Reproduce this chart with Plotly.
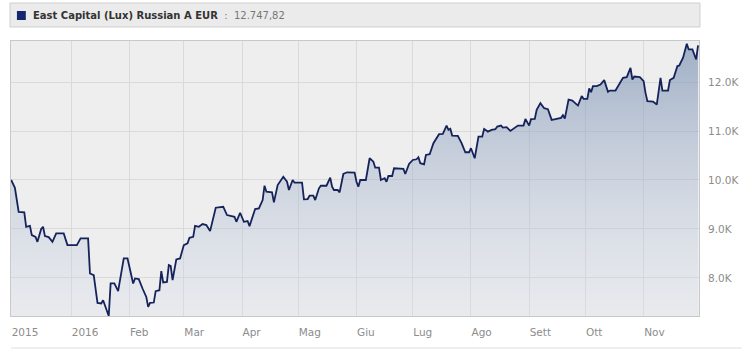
import plotly.graph_objects as go

# ---- data ----
series_name = "East Capital (Lux) Russian A EUR"
last_value_label = "12.747,82"

dates = [
    "2015-11-30", "2015-12-01", "2015-12-02", "2015-12-04", "2015-12-07", "2015-12-08",
    "2015-12-10", "2015-12-11", "2015-12-13", "2015-12-14", "2015-12-16", "2015-12-17",
    "2015-12-18", "2015-12-20", "2015-12-22", "2015-12-24", "2015-12-28", "2015-12-30",
    "2016-01-04", "2016-01-06", "2016-01-10", "2016-01-11", "2016-01-13", "2016-01-15",
    "2016-01-17", "2016-01-18", "2016-01-19", "2016-01-21", "2016-01-22", "2016-01-24",
    "2016-01-26", "2016-01-29", "2016-01-31",
    "2016-02-03", "2016-02-04", "2016-02-06", "2016-02-08", "2016-02-10", "2016-02-11",
    "2016-02-12", "2016-02-14", "2016-02-15", "2016-02-17", "2016-02-18", "2016-02-19",
    "2016-02-21", "2016-02-22", "2016-02-23", "2016-02-24", "2016-02-26", "2016-02-28",
    "2016-03-01", "2016-03-03", "2016-03-04", "2016-03-06", "2016-03-07", "2016-03-09",
    "2016-03-11", "2016-03-13", "2016-03-15", "2016-03-18", "2016-03-22", "2016-03-24",
    "2016-03-28", "2016-03-29", "2016-03-31",
    "2016-04-02", "2016-04-04", "2016-04-05", "2016-04-08", "2016-04-10", "2016-04-12",
    "2016-04-13", "2016-04-14", "2016-04-17", "2016-04-18", "2016-04-20", "2016-04-22",
    "2016-04-23", "2016-04-25", "2016-04-26", "2016-04-28", "2016-04-29",
    "2016-05-03", "2016-05-04", "2016-05-06", "2016-05-07", "2016-05-09", "2016-05-10",
    "2016-05-12", "2016-05-13", "2016-05-16", "2016-05-18", "2016-05-19", "2016-05-20",
    "2016-05-22", "2016-05-23", "2016-05-25", "2016-05-27", "2016-05-31",
    "2016-06-01", "2016-06-02", "2016-06-03", "2016-06-06", "2016-06-08", "2016-06-10",
    "2016-06-11", "2016-06-13", "2016-06-14", "2016-06-16", "2016-06-17", "2016-06-18",
    "2016-06-20", "2016-06-21", "2016-06-25", "2016-06-26", "2016-06-27", "2016-06-29",
    "2016-07-01", "2016-07-03", "2016-07-04", "2016-07-05", "2016-07-07", "2016-07-08",
    "2016-07-10", "2016-07-12", "2016-07-15", "2016-07-17", "2016-07-19", "2016-07-20",
    "2016-07-21", "2016-07-22", "2016-07-25", "2016-07-27", "2016-07-29", "2016-07-31",
    "2016-08-01", "2016-08-03", "2016-08-05", "2016-08-07", "2016-08-08", "2016-08-10",
    "2016-08-12", "2016-08-14", "2016-08-15", "2016-08-17", "2016-08-18", "2016-08-20",
    "2016-08-22", "2016-08-25", "2016-08-26", "2016-08-29", "2016-08-30",
    "2016-09-01", "2016-09-02", "2016-09-04", "2016-09-05", "2016-09-07", "2016-09-09",
    "2016-09-11", "2016-09-13", "2016-09-15", "2016-09-18", "2016-09-19", "2016-09-20",
    "2016-09-22", "2016-09-24", "2016-09-27", "2016-09-29", "2016-09-30",
    "2016-10-02", "2016-10-03", "2016-10-04", "2016-10-05", "2016-10-07", "2016-10-09",
    "2016-10-11", "2016-10-13", "2016-10-14", "2016-10-17", "2016-10-20", "2016-10-21",
    "2016-10-23", "2016-10-25", "2016-10-26", "2016-10-27", "2016-10-30",
    "2016-11-01", "2016-11-02", "2016-11-03", "2016-11-06", "2016-11-08", "2016-11-10",
    "2016-11-11", "2016-11-14", "2016-11-15", "2016-11-17", "2016-11-19", "2016-11-20",
    "2016-11-22", "2016-11-24", "2016-11-25", "2016-11-27", "2016-11-29", "2016-11-30",
]

values = [
    10000, 9900, 9840, 9350, 9340, 9045,
    9065, 8875, 8840, 8738, 9000, 9045,
    8855, 8834, 8738, 8910, 8910, 8671,
    8671, 8808, 8808, 8092, 8057, 7491,
    7479, 7546, 7429, 7225, 7888, 7888,
    7730, 8399, 8399,
    7888, 7990, 7976, 7785, 7613, 7409,
    7491, 7499, 7730, 7750, 8139, 7908,
    7920, 8262, 8247, 7955, 8378, 8399,
    8671, 8706, 8820, 8840, 9065, 9045,
    9100, 9080, 8957, 9434, 9454, 9284,
    9249, 9147, 9331,
    9147, 9162, 9059, 9407, 9421, 9591,
    9883, 9761, 9748, 9544, 9898, 10000,
    10067, 9965, 9796, 10000, 9945,
    9945, 9605, 9611, 9679, 9679, 9591,
    9830, 9883, 9883, 10047, 9863, 9796,
    9796, 9748, 10123, 10157, 10149,
    9965, 9863, 10000, 10000, 10444, 10374,
    10252, 10252, 10000, 10035, 9965, 10082,
    10082, 10239, 10239, 10225, 10123, 10327,
    10409, 10423, 10464, 10342, 10321, 10511,
    10526, 10751, 10935, 10941, 11110, 11023,
    11043, 10906, 10900, 10751, 10566, 10566,
    10648, 10444, 10885, 10885, 11043, 10988,
    11023, 11037, 11090, 11110, 11070, 11078,
    11002, 11078, 11110, 11110, 11247,
    11110, 11241, 11247, 11432, 11569, 11466,
    11446, 11227, 11241, 11268, 11323, 11254,
    11642, 11622, 11519, 11712, 11656,
    11656, 11867, 11793, 11916, 11916, 11949,
    12039, 11800, 11826, 11826, 12018, 12086,
    12100, 12290, 12051, 12112, 12100,
    12018, 11779, 11609, 11601, 11540, 12086,
    11826, 11826, 12039, 12086, 12325, 12337,
    12495, 12781, 12665, 12665, 12460, 12748,
]

x_tick_vals = ["2015-11-30", "2016-01-01", "2016-02-01", "2016-03-01", "2016-04-01",
               "2016-05-01", "2016-06-01", "2016-07-01", "2016-08-01", "2016-09-01",
               "2016-10-01", "2016-11-01"]
x_tick_text = ["2015", "2016", "Feb", "Mar", "Apr", "Mag", "Giu", "Lug", "Ago",
               "Sett", "Ott", "Nov"]
y_tick_vals = [8000, 9000, 10000, 11000, 12000]
y_tick_text = ["8.0K", "9.0K", "10.0K", "11.0K", "12.0K"]

x_range = ["2015-11-29 22:00", "2016-11-30 12:00"]
y_range = [7224, 12837]

# ---- figure ----
W, H = 749, 352
ML, MR, MT, MB = 10, 43, 41, 36
PW, PH = W - ML - MR, H - MT - MB


def px_x(p):
    return (p - ML) / PW


def px_y(p):
    return (H - MB - p) / PH


LINE = "#15235a"
AXIS_FONT = dict(family="DejaVu Sans, Verdana, sans-serif", size=10.5, color="#8c8c8c")

fig = go.Figure()
fig.add_trace(go.Scatter(
    x=dates, y=values, mode="lines",
    line=dict(color=LINE, width=1.8),
    fill="tozeroy",
    fillgradient=dict(
        type="vertical",
        colorscale=[[0, "rgba(215,222,236,0.25)"], [1, "rgba(110,135,172,0.62)"]],
        start=y_range[0], stop=y_range[1],
    ),
    hoverinfo="skip", showlegend=False,
))

fig.update_layout(
    width=W, height=H,
    margin=dict(l=ML, r=MR, t=MT, b=MB, pad=0),
    paper_bgcolor="white",
    plot_bgcolor="#eeeeee",
    showlegend=False,
    xaxis=dict(
        type="date", range=x_range,
        tickmode="array", tickvals=x_tick_vals, ticktext=x_tick_text,
        ticklabelposition="outside right",
        ticks="", showgrid=True, gridcolor="#dadada", gridwidth=1,
        showline=True, mirror=True, linecolor="#c8c8c8", linewidth=1,
        tickfont=AXIS_FONT, zeroline=False, fixedrange=True,
        ticklabelstandoff=6,
    ),
    yaxis=dict(
        range=y_range, side="right",
        tickmode="array", tickvals=y_tick_vals, ticktext=y_tick_text,
        ticks="", showgrid=True, gridcolor="#dadada", gridwidth=1,
        showline=True, mirror=True, linecolor="#c8c8c8", linewidth=1,
        tickfont=AXIS_FONT, zeroline=False, fixedrange=True,
        ticklabelstandoff=6,
    ),
)

# legend header box
fig.add_shape(type="rect", xref="paper", yref="paper",
              x0=px_x(9), x1=px_x(707), y0=px_y(27), y1=px_y(3),
              fillcolor="#ebebeb", line=dict(color="#cfcfcf", width=1), layer="below")
fig.add_shape(type="rect", xref="paper", yref="paper",
              x0=px_x(16), x1=px_x(25), y0=px_y(20), y1=px_y(11),
              fillcolor="#16266e", line=dict(width=0))
fig.add_annotation(
    xref="paper", yref="paper", x=px_x(30), y=px_y(15.5),
    xanchor="left", yanchor="middle", showarrow=False,
    text=(f"<b>{series_name}</b>"
          f"<span style='color:#777777'>  :  {last_value_label}</span>"),
    font=dict(family="DejaVu Sans, Verdana, sans-serif", size=10, color="#333333"),
)

# bottom separator line
fig.add_shape(type="line", xref="paper", yref="paper",
              x0=px_x(10), x1=px_x(749), y0=px_y(348), y1=px_y(348),
              line=dict(color="#dedede", width=1))

fig.write_html("out.html")
